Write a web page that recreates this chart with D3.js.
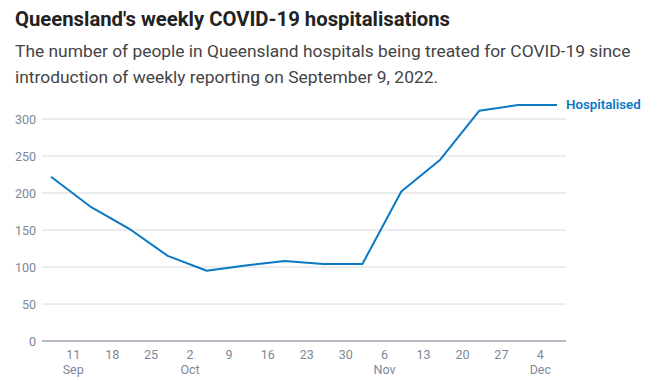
<!DOCTYPE html>
<html>
<head>
<meta charset="utf-8">
<script src="https://cdn.jsdelivr.net/npm/d3@7"></script>
<style>
  html, body { margin: 0; padding: 0; background: #fff; }
  svg { display: block; }
  text { font-family: Roboto, "Noto Sans", sans-serif; }
</style>
</head>
<body>
<svg id="chart" width="669" height="381"></svg>
<script>
// ---- Data ----
const title = "Queensland's weekly COVID-19 hospitalisations";
const subtitleLines = [
  "The number of people in Queensland hospitals being treated for COVID-19 since",
  "introduction of weekly reporting on September 9, 2022."
];
const seriesName = "Hospitalised";
const dates = [
  "2022-09-07", "2022-09-14", "2022-09-21", "2022-09-28", "2022-10-05",
  "2022-10-12", "2022-10-19", "2022-10-26", "2022-11-02", "2022-11-09",
  "2022-11-16", "2022-11-23", "2022-11-30", "2022-12-07"
];
const hospitalised = [222, 182, 152, 115, 95, 102, 108, 104, 104, 202, 245, 311, 319, 319];
const yTicks = [0, 50, 100, 150, 200, 250, 300];
const xTickDates = [
  "2022-09-11", "2022-09-18", "2022-09-25", "2022-10-02", "2022-10-09",
  "2022-10-16", "2022-10-23", "2022-10-30", "2022-11-06", "2022-11-13",
  "2022-11-20", "2022-11-27", "2022-12-04"
];

// ---- Layout ----
const svg = d3.select("#chart");
const parse = d3.utcParse("%Y-%m-%d");
const data = dates.map((d, i) => ({ date: parse(d), value: hospitalised[i] }));
const ticks = xTickDates.map(parse);

const plotLeft = 42, plotRight = 566;
const x = d3.scaleUtc()
  .domain(d3.extent(data, d => d.date))
  .range([51, 557]);
const y = d3.scaleLinear().domain([0, 300]).range([341, 119]);

// Title & subtitle
svg.append("text")
  .attr("x", 15).attr("y", 26)
  .attr("font-size", 20.3).attr("font-weight", 700)
  .attr("fill", "#222")
  .text(title);

svg.selectAll("text.sub").data(subtitleLines).join("text")
  .attr("class", "sub")
  .attr("x", 15).attr("y", (d, i) => 57 + i * 26)
  .attr("font-size", 17.4)
  .attr("fill", "#444")
  .text(d => d);

// Gridlines
const grid = svg.append("g");
grid.selectAll("line").data(yTicks.filter(v => v !== 0)).join("line")
  .attr("x1", plotLeft).attr("x2", plotRight)
  .attr("y1", d => y(d)).attr("y2", d => y(d))
  .attr("stroke", "#d6dae1").attr("stroke-width", 1);

// Y axis labels
svg.append("g").selectAll("text").data(yTicks).join("text")
  .attr("x", 36).attr("y", d => y(d) + 4.5)
  .attr("text-anchor", "end")
  .attr("font-size", 12.5)
  .attr("fill", "#7d879a")
  .text(d => d);

// Zero baseline
svg.append("line")
  .attr("x1", plotLeft).attr("x2", plotRight)
  .attr("y1", y(0)).attr("y2", y(0))
  .attr("stroke", "#6f7a8e").attr("stroke-width", 1);

// X axis labels
const xAxisG = svg.append("g");
xAxisG.selectAll("text.day").data(ticks).join("text")
  .attr("class", "day")
  .attr("x", d => x(d)).attr("y", 359)
  .attr("text-anchor", "middle")
  .attr("font-size", 12.5)
  .attr("fill", "#7d879a")
  .text(d => d3.utcFormat("%-d")(d));

const monthTicks = ticks.filter((d, i) => i === 0 || d.getUTCMonth() !== ticks[i - 1].getUTCMonth());
xAxisG.selectAll("text.month").data(monthTicks).join("text")
  .attr("class", "month")
  .attr("x", d => x(d)).attr("y", 374)
  .attr("text-anchor", "middle")
  .attr("font-size", 12.5)
  .attr("fill", "#7d879a")
  .text(d => d3.utcFormat("%b")(d));

// Line
const line = d3.line().x(d => x(d.date)).y(d => y(d.value));
svg.append("path")
  .datum(data)
  .attr("d", line)
  .attr("fill", "none")
  .attr("stroke", "#0a78c4")
  .attr("stroke-width", 2)
  .attr("stroke-linejoin", "round");

// Series label
const last = data[data.length - 1];
svg.append("text")
  .attr("x", plotRight).attr("y", y(last.value) + 4.5)
  .attr("font-size", 13.3).attr("font-weight", 600)
  .attr("fill", "#0a78c4")
  .text(seriesName);
</script>
</body>
</html>
